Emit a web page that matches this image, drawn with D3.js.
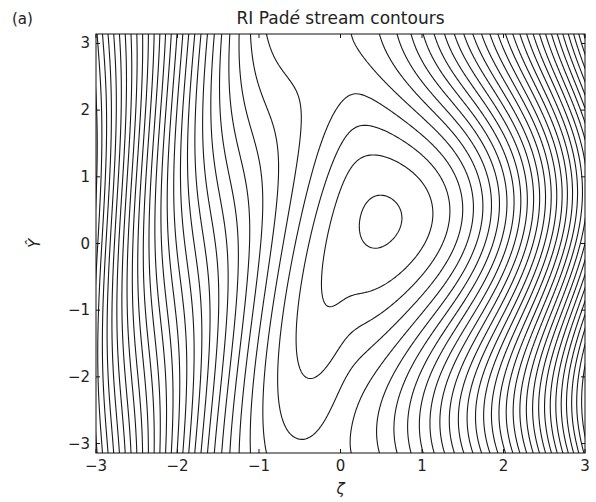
<!DOCTYPE html>
<html>
<head>
<meta charset="utf-8">
<script src="https://cdn.jsdelivr.net/npm/d3@7"></script>
<style>
  body { margin: 0; background: #fff; }
  text { font-family: "DejaVu Sans", sans-serif; fill: #222; }
</style>
</head>
<body>
<script>
const xTicks = [-3, -2, -1, 0, 1, 2, 3]
const yTicks = [-3, -2, -1, 0, 1, 2, 3]
const xDomain = [-3, 3]
const yDomain = [-Math.PI, Math.PI]

// stream function psi = base(x) - amp(x) * cos(y - phase(x))
// parameters (centre, loop extents, line crossings)
const baseCoef = [0.078, 0.502, 0.198]          // shift, flattening, flattening width
const waveAmp = [0.163, 0.875, 0.107, 0.273]    // left amp, right amp, ramp centre, ramp width
const ampBump = [-0.271, 0.537, 0.758]          // bump height, centre, width
const wavePhase = [0.263, 0.09, 2.49, 0.08, 0.178] // phase at knee, knee x, left tilt, knee width, right tilt

const levels = [-0.361, -0.189, -0.017, 0.155, 0.327, 0.499, 0.671, 0.843,
  1.015, 1.187, 1.359, 1.531, 1.703, 1.875, 2.047, 2.219, 2.391, 2.563, 2.735,
  2.907, 3.079, 3.251, 3.423, 3.595, 3.767, 3.939, 4.111, 4.283, 4.455, 4.627,
  4.799, 4.971, 5.143]

function psi(x, y) {
  const u = x - baseCoef[0]
  const d2 = baseCoef[2] * baseCoef[2]
  const base = u * u / 2 - baseCoef[1] * d2 / 2 * Math.log(1 + u * u / d2)
  const tb = (x - ampBump[1]) / ampBump[2]
  const amp = waveAmp[0] + (waveAmp[1] - waveAmp[0]) / (1 + Math.exp(-(x - waveAmp[2]) / waveAmp[3]))
    + ampBump[0] * Math.exp(-tb * tb)
  const w = wavePhase[3]
  const phase = wavePhase[0] + wavePhase[4] * (x - wavePhase[1])
    - wavePhase[2] * w * Math.log(1 + Math.exp(-(x - wavePhase[1]) / w))
  return base - amp * Math.cos(y - phase)
}

const width = 596, height = 502
const margin = { top: 34, right: 11, bottom: 49, left: 96 }
const pw = width - margin.left - margin.right
const ph = height - margin.top - margin.bottom

const svg = d3.select('body').append('svg')
  .attr('width', width)
  .attr('height', height)

const x = d3.scaleLinear().domain(xDomain).range([margin.left, margin.left + pw])
const y = d3.scaleLinear().domain(yDomain).range([margin.top + ph, margin.top])

// sample the field on a grid a little larger than the plot, then clip
const step = 0.02
const gx0 = xDomain[0] - 0.06, gy1 = yDomain[1] + 0.06
const nx = Math.ceil((xDomain[1] - xDomain[0] + 0.12) / step) + 1
const ny = Math.ceil((yDomain[1] - yDomain[0] + 0.12) / step) + 1
const values = new Float64Array(nx * ny)
for (let j = 0; j < ny; j++) {
  for (let i = 0; i < nx; i++) {
    values[j * nx + i] = psi(gx0 + i * step, gy1 - j * step)
  }
}

const contours = d3.contours().size([nx, ny]).thresholds(levels)(values)

const gu = d3.scaleLinear().domain([0.5, 1.5]).range([x(gx0), x(gx0 + step)])
const gv = d3.scaleLinear().domain([0.5, 1.5]).range([y(gy1), y(gy1 - step)])
const path = d3.geoPath(d3.geoTransform({
  point(u, v) { this.stream.point(gu(u), gv(v)) }
}))

svg.append('clipPath').attr('id', 'plot')
  .append('rect')
  .attr('x', margin.left).attr('y', margin.top)
  .attr('width', pw).attr('height', ph)

svg.append('g')
  .attr('clip-path', 'url(#plot)')
  .selectAll('path')
  .data(contours)
  .join('path')
  .attr('d', path)
  .attr('fill', 'none')
  .attr('stroke', '#1a1a1a')
  .attr('stroke-width', 1.1)

// frame
svg.append('rect')
  .attr('x', margin.left).attr('y', margin.top)
  .attr('width', pw).attr('height', ph)
  .attr('fill', 'none')
  .attr('stroke', '#111')
  .attr('stroke-width', 1)

// inward ticks on all four sides
const tickLen = 4
const axes = svg.append('g').attr('stroke', '#111').attr('stroke-width', 1)
xTicks.forEach(t => {
  axes.append('line').attr('x1', x(t)).attr('x2', x(t))
    .attr('y1', margin.top + ph).attr('y2', margin.top + ph - tickLen)
  axes.append('line').attr('x1', x(t)).attr('x2', x(t))
    .attr('y1', margin.top).attr('y2', margin.top + tickLen)
})
yTicks.forEach(t => {
  axes.append('line').attr('y1', y(t)).attr('y2', y(t))
    .attr('x1', margin.left).attr('x2', margin.left + tickLen)
  axes.append('line').attr('y1', y(t)).attr('y2', y(t))
    .attr('x1', margin.left + pw).attr('x2', margin.left + pw - tickLen)
})

const fmt = d => d < 0 ? '\u2212' + Math.abs(d) : String(d)

svg.append('g').selectAll('text')
  .data(xTicks)
  .join('text')
  .attr('x', d => x(d))
  .attr('y', margin.top + ph + 18)
  .attr('text-anchor', 'middle')
  .attr('font-size', 15)
  .text(fmt)

svg.append('g').selectAll('text')
  .data(yTicks)
  .join('text')
  .attr('x', margin.left - 6)
  .attr('y', d => y(d) + 5)
  .attr('text-anchor', 'end')
  .attr('font-size', 15)
  .text(fmt)

const title = svg.append('text')
  .attr('x', margin.left + pw / 2)
  .attr('y', 24)
  .attr('text-anchor', 'middle')
  .attr('font-size', 17)
title.append('tspan').text('RI Pad')
title.append('tspan').attr('font-style', 'italic').text('\u00e9')
title.append('tspan').text(' stream contours')

svg.append('text')
  .attr('x', 12).attr('y', 24)
  .attr('font-size', 15)
  .text('(a)')

svg.append('text')
  .attr('x', margin.left + pw / 2)
  .attr('y', 494)
  .attr('text-anchor', 'middle')
  .attr('font-size', 15)
  .attr('font-style', 'italic')
  .text('\u03b6')

svg.append('text')
  .attr('transform', `translate(40, ${y(0)}) rotate(-90)`)
  .attr('text-anchor', 'middle')
  .attr('font-size', 15)
  .attr('font-style', 'italic')
  .text('\u0176')
</script>
</body>
</html>
